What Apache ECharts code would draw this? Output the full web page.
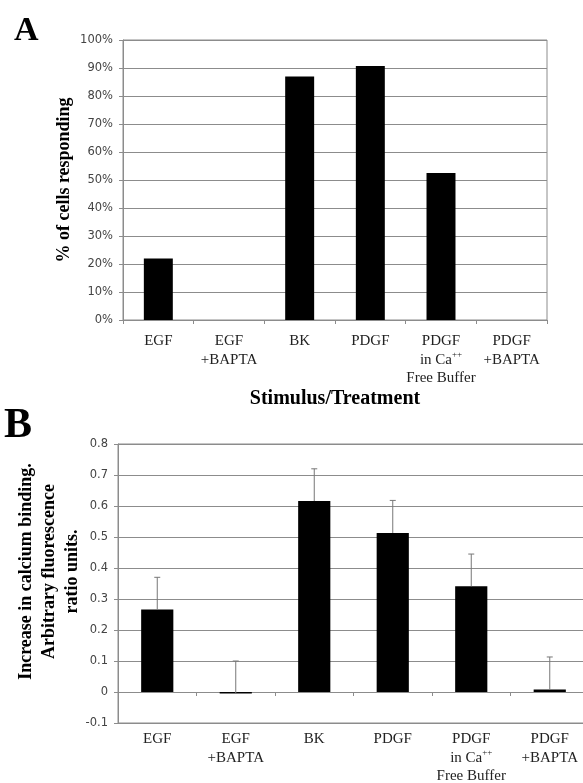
<!DOCTYPE html>
<html>
<head>
<meta charset="utf-8">
<script src="https://cdn.jsdelivr.net/npm/echarts@6/dist/echarts.min.js"></script>
<style>
html,body{margin:0;padding:0;background:#fff;}
#chart{width:583px;height:783px;}
</style>
</head>
<body>
<div id="chart"></div>
<script>
// ---- data ----
var categories = ["EGF", "EGF\n+BAPTA", "BK", "PDGF", "PDGF\nin Ca++\nFree Buffer", "PDGF\n+BAPTA"];
var percentResponding = [22, 0, 87, 90.7, 52.5, 0];
var calciumIncrease = [0.266, -0.005, 0.616, 0.513, 0.341, 0.008];
var calciumErrorPlus = [0.104, 0.105, 0.104, 0.105, 0.104, 0.105];
var percentTicks = {min: 0, max: 100, interval: 10};
var ratioTicks = {min: -0.1, max: 0.8, interval: 0.1};

var gridColor = '#8c8c8c';
var serif = '"Liberation Serif", "Times New Roman", serif';
var sans = '"DejaVu Sans", Verdana, sans-serif';

function catFormatter(v) {
  return v.replace('++', '{s|++}');
}
var catRich = { s: { fontSize: 9, fontFamily: serif, color: '#222', verticalAlign: 'top', lineHeight: 18 } };

var errData = calciumIncrease.map(function (v, i) { return [i, v, calciumErrorPlus[i]]; });

var chart = echarts.init(document.getElementById('chart'), null, {renderer: 'canvas'});
chart.setOption({
  animation: false,
  backgroundColor: '#fff',
  graphic: [
    { type: 'text', left: 14, top: 14, style: { text: 'A', font: 'bold 34px ' + serif, fill: '#000' } },
    { type: 'text', left: 4, top: 405, style: { text: 'B', font: 'bold 42px ' + serif, fill: '#000' } }
  ],
  grid: [
    { left: 123, right: 36, top: 40, bottom: 463, show: true, borderColor: gridColor, borderWidth: 1, outerBoundsMode: 'none', containLabel: false },
    { left: 118, right: -6, top: 444, bottom: 60, show: true, borderColor: gridColor, borderWidth: 1, outerBoundsMode: 'none', containLabel: false }
  ],
  xAxis: [
    {
      gridIndex: 0, type: 'category', data: categories,
      axisLine: { lineStyle: { color: gridColor } },
      axisTick: { show: true, length: 4, lineStyle: { color: gridColor } },
      axisLabel: { formatter: catFormatter, rich: catRich, interval: 0, margin: 12, fontFamily: serif, fontSize: 15, lineHeight: 18.5, color: '#222' },
      name: 'Stimulus/Treatment', nameLocation: 'middle', nameGap: 69, nameMoveOverlap: false,
      nameTextStyle: { fontFamily: serif, fontWeight: 'bold', fontSize: 20, color: '#000' }
    },
    {
      gridIndex: 1, type: 'category', data: categories,
      axisLine: { onZero: true, lineStyle: { color: gridColor } },
      axisTick: { show: true, length: 4, lineStyle: { color: gridColor } },
      axisLabel: { formatter: catFormatter, rich: catRich, interval: 0, margin: 7, fontFamily: serif, fontSize: 15, lineHeight: 18.5, color: '#222' }
    }
  ],
  yAxis: [
    {
      gridIndex: 0, type: 'value', min: percentTicks.min, max: percentTicks.max, interval: percentTicks.interval,
      axisLine: { show: true, lineStyle: { color: gridColor } },
      axisTick: { show: true, length: 4, lineStyle: { color: gridColor } },
      splitLine: { lineStyle: { color: gridColor, width: 1 } },
      axisLabel: { formatter: '{value}%', fontFamily: sans, fontSize: 11.5, color: '#444', margin: 10 },
      name: '% of cells responding', nameLocation: 'middle', nameGap: 50, nameMoveOverlap: false,
      nameTextStyle: { fontFamily: serif, fontWeight: 'bold', fontSize: 18, color: '#000' }
    },
    {
      gridIndex: 1, type: 'value', min: ratioTicks.min, max: ratioTicks.max, interval: ratioTicks.interval,
      axisLine: { show: true, lineStyle: { color: gridColor } },
      axisTick: { show: true, length: 4, lineStyle: { color: gridColor } },
      splitLine: { lineStyle: { color: gridColor, width: 1 } },
      axisLabel: { fontFamily: sans, fontSize: 11.5, color: '#444', margin: 10,
        formatter: function (v) { return String(Math.round(v * 10) / 10); } },
      name: 'Increase in calcium binding.\nArbitrary fluorescence\nratio units.', nameLocation: 'middle', nameGap: 34, nameMoveOverlap: false,
      nameTextStyle: { fontFamily: serif, fontWeight: 'bold', fontSize: 18, lineHeight: 23, color: '#000', align: 'center', padding: [0, 0, 0, 24] }
    }
  ],
  series: [
    {
      type: 'bar', xAxisIndex: 0, yAxisIndex: 0, data: percentResponding,
      barWidth: '41%', itemStyle: { color: '#000' }
    },
    {
      type: 'bar', xAxisIndex: 1, yAxisIndex: 1, data: calciumIncrease,
      barWidth: '41%', itemStyle: { color: '#000' }
    },
    {
      type: 'custom', xAxisIndex: 1, yAxisIndex: 1, data: errData, z: 5,
      renderItem: function (params, api) {
        var base = api.coord([api.value(0), api.value(1)]);
        var top = api.coord([api.value(0), api.value(1) + api.value(2)]);
        var cap = 3;
        var st = { stroke: '#777', lineWidth: 1 };
        return {
          type: 'group',
          children: [
            { type: 'line', shape: { x1: base[0], y1: base[1], x2: top[0], y2: top[1] }, style: st },
            { type: 'line', shape: { x1: top[0] - cap, y1: top[1], x2: top[0] + cap, y2: top[1] }, style: st }
          ]
        };
      }
    }
  ]
});
</script>
</body>
</html>
